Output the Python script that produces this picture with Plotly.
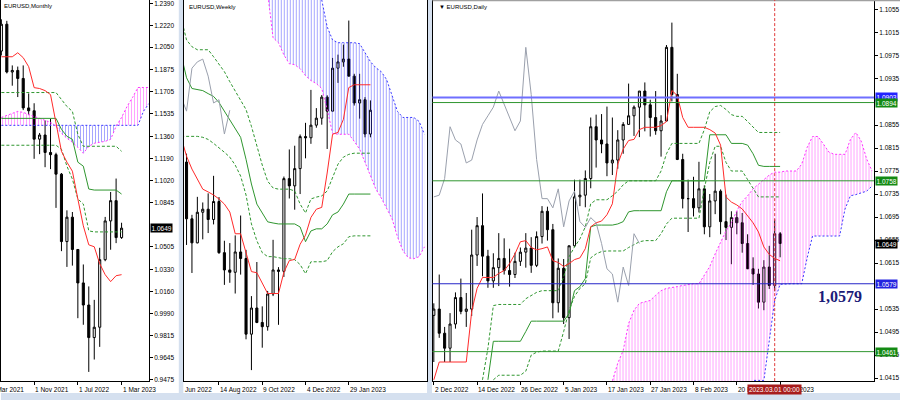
import numpy as np
import plotly.graph_objects as go

# ---------------- MONTHLY (index 0 = Mar 2021) ----------------
m_x = list(range(2, 25))
m_open = [1.2020, 1.2228, 1.1858, 1.1870, 1.1808, 1.1580, 1.1558, 1.1338, 1.1370, 1.1235, 1.1218, 1.1067,
          1.0545, 1.0734, 1.0484, 1.0225, 1.0054, 0.9802, 0.9882, 1.0405, 1.0705, 1.0862, 1.0576]
m_high = [1.2266, 1.2254, 1.1909, 1.1900, 1.1909, 1.1692, 1.1616, 1.1386, 1.1483, 1.1495, 1.1233, 1.1076,
          1.0787, 1.0774, 1.0487, 1.0368, 1.0198, 1.0094, 1.0497, 1.0736, 1.0929, 1.1033, 1.0691]
m_low = [1.1986, 1.1847, 1.1752, 1.1664, 1.1563, 1.1524, 1.1186, 1.1222, 1.1121, 1.1106, 1.0806, 1.0471,
         1.0349, 1.0359, 0.9952, 0.9901, 0.9536, 0.9632, 0.9730, 1.0393, 1.0482, 1.0533, 1.0566]
m_close = [1.2228, 1.1858, 1.1870, 1.1808, 1.1580, 1.1558, 1.1338, 1.1370, 1.1235, 1.1218, 1.1067, 1.0545,
           1.0734, 1.0484, 1.0225, 1.0054, 0.9802, 0.9882, 1.0405, 1.0705, 1.0862, 1.0576, 1.0649]
m_tenkan = [1.1976, 1.1976, 1.1976, 1.2007, 1.1969, 1.1899, 1.1737, 1.1730, 1.1714, 1.1683, 1.1452, 1.1244,
            1.1160, 1.1090, 1.0875, 1.0667, 1.0520, 1.0505, 1.0374, 1.0289, 1.0235, 1.0281, 1.0289]
m_kijun = [1.1499] * 11 + [1.1414, 1.1360, 1.1337, 1.1160, 1.1129, 1.0952, 1.0944, 1.0944, 1.0944, 1.0944, 1.0944, 1.0913]
m_band_up = [1.1699] * 11 + [1.1645, 1.1591, 1.1553, 1.1375, 1.1283, 1.1283, 1.1283, 1.1283, 1.1283, 1.1283, 1.1283, 1.1244]
m_band_dn = [1.1291] * 11 + [1.1260, 1.1129, 1.1029, 1.0875, 1.0836, 1.0628, 1.0620, 1.0620, 1.0620, 1.0620, 1.0620, 1.0620]
m_cloud_x = list(range(2, 30))
m_spanA = [1.1506, 1.1522, 1.1537, 1.1553, 1.1545, 1.1530, 1.1514, 1.1499, 1.1483, 1.1468, 1.1437, 1.1383,
           1.1345, 1.1314, 1.1275, 1.1229, 1.1283, 1.1306, 1.1314, 1.1321, 1.1337, 1.1437, 1.1506, 1.1591,
           1.1660, 1.1738, 1.1738, 1.1738]
m_spanB = [1.1445] * 26 + [1.1553, 1.1614]
m_ticks = [0.9475, 0.9645, 0.9815, 0.9990, 1.0160, 1.0330, 1.0505, 1.0845, 1.1020, 1.1190,
           1.1360, 1.1535, 1.1705, 1.1875, 1.2050, 1.2220, 1.2390]
m_dates = [(0, "1 Mar 2021"), (8, "1 Nov 2021"), (16, "1 Jul 2022"), (24, "1 Mar 2023")]

# ---------------- WEEKLY (index 0 = 19 Jun 2022) ----------------
w_x = list(range(2, 37))
w_open = [1.0427, 1.0184, 1.0081, 1.0212, 1.0225, 1.0181, 1.0258, 1.0039, 0.9965, 0.9955, 1.0042, 1.0014,
          0.9690, 0.9802, 0.9740, 0.9722, 0.9862, 0.9965, 0.9959, 1.0356, 1.0325, 1.0399, 1.0536, 1.0531,
          1.0585, 1.0615, 1.0705, 1.0645, 1.0829, 1.0856, 1.0868, 1.0795, 1.0680, 1.0694, 1.0547]
w_high = [1.0463, 1.0201, 1.0278, 1.0254, 1.0293, 1.0368, 1.0277, 1.0090, 1.0080, 1.0113, 1.0198, 1.0051,
          0.9853, 0.9999, 0.9809, 0.9875, 1.0094, 0.9977, 1.0365, 1.0481, 1.0497, 1.0545, 1.0595, 1.0736,
          1.0658, 1.0714, 1.0713, 1.0873, 1.0887, 1.0930, 1.1033, 1.0805, 1.0805, 1.0705, 1.0691]
w_low = [1.0072, 0.9952, 1.0079, 1.0096, 1.0123, 1.0160, 1.0034, 0.9901, 0.9910, 0.9864, 0.9945, 0.9668,
         0.9536, 0.9737, 0.9632, 0.9705, 0.9853, 0.9730, 0.9935, 1.0271, 1.0223, 1.0290, 1.0443, 1.0505,
         1.0574, 1.0587, 1.0483, 1.0644, 1.0766, 1.0835, 1.0794, 1.0669, 1.0613, 1.0533, 1.0533]
w_close = [1.0184, 1.0081, 1.0212, 1.0225, 1.0181, 1.0258, 1.0039, 0.9965, 0.9955, 1.0042, 1.0014, 0.9690,
           0.9802, 0.9740, 0.9722, 0.9862, 0.9965, 0.9959, 1.0356, 1.0325, 1.0399, 1.0536, 1.0531, 1.0585,
           1.0615, 1.0705, 1.0645, 1.0829, 1.0856, 1.0868, 1.0795, 1.0680, 1.0694, 1.0547, 1.0649]
w_line_x = list(range(1, 37))
w_tenkan = [1.0533, 1.0452, 1.0397, 1.0354, 1.0311, 1.0299, 1.0286, 1.0269, 1.0247, 1.0213, 1.0120, 1.0120,
            1.0043, 0.9958, 0.9953, 0.9907, 0.9864, 0.9864, 0.9864, 0.9955, 1.0005, 1.0010, 1.0075, 1.0114,
            1.0190, 1.0225, 1.0233, 1.0380, 1.0546, 1.0554, 1.0610, 1.0746, 1.0758, 1.0758, 1.0758, 1.0758]
w_kijun = [1.0886, 1.0788, 1.0742, 1.0737, 1.0733, 1.0720, 1.0708, 1.0682, 1.0644, 1.0610, 1.0571, 1.0533,
           1.0439, 1.0333, 1.0247, 1.0209, 1.0171, 1.0166, 1.0162, 1.0162, 1.0162, 1.0162, 1.0149, 1.0086,
           1.0132, 1.0141, 1.0141, 1.0162, 1.0201, 1.0213, 1.0247, 1.0290, 1.0290, 1.0290, 1.0290, 1.0290]
w_band_up = [1.1044, 1.0950, 1.0921, 1.0908, 1.0908, 1.0908, 1.0878, 1.0848, 1.0814, 1.0771, 1.0733, 1.0695,
             1.0652, 1.0580, 1.0495, 1.0414, 1.0345, 1.0316, 1.0311, 1.0311, 1.0311, 1.0303, 1.0247, 1.0209,
             1.0269, 1.0277, 1.0282, 1.0303, 1.0362, 1.0418, 1.0448, 1.0460, 1.0465, 1.0465, 1.0465, 1.0465]
w_band_dn = [1.0537, 1.0537, 1.0537, 1.0537, 1.0533, 1.0524, 1.0507, 1.0490, 1.0469, 1.0448, 1.0414, 1.0367,
             1.0286, 1.0162, 1.0090, 1.0039, 1.0022, 1.0022, 1.0018, 1.0013, 1.0013, 1.0009, 0.9988, 0.9949,
             1.0000, 1.0000, 1.0000, 1.0005, 1.0043, 1.0064, 1.0077, 1.0107, 1.0111, 1.0111, 1.0111, 1.0111]
w_chikou_x = list(range(1, 11))
w_chikou = [1.0705, 1.0645, 1.0829, 1.0856, 1.0868, 1.0795, 1.0680, 1.0694, 1.0547, 1.0649]
w_cloud_x = list(range(16, 47))
w_spanA = [1.1200, 1.1150, 1.0959, 1.0938, 1.0886, 1.0848, 1.0844, 1.0827, 1.0797, 1.0776, 1.0763, 1.0742,
           1.0652, 1.0550, 1.0546, 1.0546, 1.0546, 1.0516, 1.0482, 1.0426, 1.0371, 1.0311, 1.0273, 1.0226,
           1.0184, 1.0107, 1.0047, 1.0017, 1.0013, 1.0022, 1.0064]
w_spanB = [1.1300] * 11 + [1.1121, 1.1006, 1.0950, 1.0938, 1.0938, 1.0938, 1.0938, 1.0934, 1.0895, 1.0857,
                           1.0831, 1.0814, 1.0780, 1.0712, 1.0644, 1.0618, 1.0618, 1.0618, 1.0601, 1.0546]
w_dates = [(8, "14 Aug 2022"), (16, "9 Oct 2022"), (24, "4 Dec 2022"), (32, "29 Jan 2023")]

# ---------------- DAILY (index 0 = 2 Dec 2022) ----------------
d_x = list(range(0, 65))
d_open = [1.0524, 1.0535, 1.0493, 1.0467, 1.0509, 1.0555, 1.0531, 1.0535, 1.0629, 1.0680, 1.0627, 1.0584,
          1.0607, 1.0623, 1.0602, 1.0595, 1.0618, 1.0634, 1.0641, 1.0611, 1.0661, 1.0705, 1.0673, 1.0546,
          1.0606, 1.0520, 1.0645, 1.0730, 1.0733, 1.0762, 1.0852, 1.0829, 1.0822, 1.0789, 1.0794, 1.0829,
          1.0856, 1.0871, 1.0886, 1.0914, 1.0890, 1.0868, 1.0845, 1.0862, 1.0990, 1.0908, 1.0795, 1.0727,
          1.0727, 1.0711, 1.0744, 1.0678, 1.0723, 1.0740, 1.0687, 1.0677, 1.0694, 1.0685, 1.0649, 1.0605,
          1.0596, 1.0547, 1.0608, 1.0576, 1.0666]
d_high = [1.0545, 1.0595, 1.0504, 1.0528, 1.0564, 1.0588, 1.0563, 1.0673, 1.0695, 1.0736, 1.0638, 1.0632,
          1.0667, 1.0658, 1.0640, 1.0633, 1.0642, 1.0667, 1.0660, 1.0670, 1.0714, 1.0713, 1.0683, 1.0623,
          1.0622, 1.0644, 1.0760, 1.0760, 1.0776, 1.0868, 1.0873, 1.0874, 1.0887, 1.0868, 1.0846, 1.0860,
          1.0927, 1.0889, 1.0914, 1.0929, 1.0899, 1.0914, 1.0872, 1.0994, 1.1033, 1.0944, 1.0805, 1.0760,
          1.0765, 1.0791, 1.0750, 1.0735, 1.0805, 1.0743, 1.0734, 1.0705, 1.0705, 1.0702, 1.0665, 1.0625,
          1.0605, 1.0620, 1.0645, 1.0691, 1.0669]
d_low = [1.0443, 1.0485, 1.0443, 1.0443, 1.0501, 1.0526, 1.0504, 1.0523, 1.0610, 1.0592, 1.0572, 1.0572,
         1.0575, 1.0595, 1.0574, 1.0589, 1.0610, 1.0607, 1.0598, 1.0608, 1.0649, 1.0654, 1.0519, 1.0529,
         1.0509, 1.0483, 1.0643, 1.0714, 1.0712, 1.0745, 1.0781, 1.0806, 1.0766, 1.0768, 1.0779, 1.0805,
         1.0856, 1.0836, 1.0834, 1.0844, 1.0835, 1.0838, 1.0800, 1.0861, 1.0896, 1.0794, 1.0710, 1.0669,
         1.0696, 1.0703, 1.0665, 1.0660, 1.0700, 1.0665, 1.0655, 1.0613, 1.0665, 1.0633, 1.0608, 1.0577,
         1.0536, 1.0533, 1.0570, 1.0566, 1.0625]
d_close = [1.0535, 1.0493, 1.0467, 1.0509, 1.0555, 1.0531, 1.0535, 1.0629, 1.0680, 1.0627, 1.0584, 1.0607,
           1.0623, 1.0602, 1.0595, 1.0618, 1.0634, 1.0641, 1.0611, 1.0661, 1.0705, 1.0673, 1.0546, 1.0606,
           1.0520, 1.0645, 1.0730, 1.0733, 1.0762, 1.0852, 1.0829, 1.0822, 1.0789, 1.0794, 1.0829, 1.0856,
           1.0871, 1.0886, 1.0914, 1.0890, 1.0868, 1.0845, 1.0862, 1.0990, 1.0908, 1.0795, 1.0727, 1.0727,
           1.0711, 1.0744, 1.0678, 1.0723, 1.0740, 1.0687, 1.0677, 1.0694, 1.0685, 1.0649, 1.0605, 1.0596,
           1.0547, 1.0608, 1.0576, 1.0666, 1.0649]
d_tenkan = [1.0412, 1.0443, 1.0443, 1.0443, 1.0443, 1.0443, 1.0443, 1.0531, 1.0571, 1.0590, 1.0590, 1.0590,
            1.0597, 1.0602, 1.0614, 1.0631, 1.0652, 1.0654, 1.0642, 1.0638, 1.0640, 1.0643, 1.0619, 1.0616,
            1.0609, 1.0614, 1.0621, 1.0624, 1.0640, 1.0678, 1.0685, 1.0688, 1.0699, 1.0718, 1.0787, 1.0813,
            1.0828, 1.0830, 1.0847, 1.0851, 1.0851, 1.0851, 1.0854, 1.0861, 1.0915, 1.0906, 1.0868, 1.0851,
            1.0851, 1.0851, 1.0851, 1.0847, 1.0841, 1.0820, 1.0730, 1.0721, 1.0716, 1.0709, 1.0697, 1.0685,
            1.0669, 1.0643, 1.0630, 1.0623, 1.0619]
d_kijun_x = list(range(10, 65))
d_kijun = [1.0412, 1.0479, 1.0479, 1.0479, 1.0479, 1.0479, 1.0479, 1.0496, 1.0514, 1.0514, 1.0514, 1.0514,
           1.0514, 1.0514, 1.0514, 1.0527, 1.0567, 1.0574, 1.0588, 1.0678, 1.0681, 1.0681, 1.0681, 1.0681,
           1.0683, 1.0687, 1.0704, 1.0706, 1.0706, 1.0706, 1.0706, 1.0706, 1.0706, 1.0739, 1.0758, 1.0758,
           1.0758, 1.0758, 1.0758, 1.0758, 1.0758, 1.0838, 1.0838, 1.0838, 1.0838, 1.0823, 1.0823, 1.0823,
           1.0820, 1.0805, 1.0785, 1.0783, 1.0783, 1.0783, 1.0783]
d_band_up_x = list(range(9, 65))
d_band_up = [1.0412, 1.0467, 1.0541, 1.0543, 1.0543, 1.0543, 1.0543, 1.0543, 1.0553, 1.0559, 1.0564, 1.0567,
             1.0567, 1.0567, 1.0567, 1.0591, 1.0626, 1.0643, 1.0657, 1.0678, 1.0718, 1.0725, 1.0725, 1.0725,
             1.0732, 1.0740, 1.0751, 1.0758, 1.0758, 1.0758, 1.0758, 1.0758, 1.0758, 1.0775, 1.0805, 1.0823,
             1.0823, 1.0823, 1.0823, 1.0823, 1.0823, 1.0847, 1.0878, 1.0887, 1.0889, 1.0882, 1.0873, 1.0870,
             1.0870, 1.0861, 1.0851, 1.0842, 1.0842, 1.0842, 1.0842, 1.0842]
d_band_dn_x = list(range(11, 65))
d_band_dn = [1.0412, 1.0420, 1.0420, 1.0420, 1.0420, 1.0420, 1.0427, 1.0455, 1.0460, 1.0462, 1.0462, 1.0462,
             1.0462, 1.0496, 1.0533, 1.0557, 1.0571, 1.0579, 1.0624, 1.0631, 1.0635, 1.0636, 1.0636, 1.0636,
             1.0636, 1.0642, 1.0647, 1.0652, 1.0654, 1.0654, 1.0654, 1.0666, 1.0683, 1.0693, 1.0693, 1.0693,
             1.0693, 1.0693, 1.0693, 1.0744, 1.0790, 1.0818, 1.0818, 1.0790, 1.0775, 1.0775, 1.0775, 1.0760,
             1.0745, 1.0730, 1.0730, 1.0730, 1.0730, 1.0730]
d_chikou_x = list(range(0, 39))
d_chikou = [1.0730, 1.0733, 1.0762, 1.0852, 1.0829, 1.0822, 1.0789, 1.0794, 1.0829, 1.0856, 1.0871, 1.0886,
            1.0914, 1.0890, 1.0868, 1.0845, 1.0862, 1.0990, 1.0908, 1.0795, 1.0727, 1.0727, 1.0711, 1.0744,
            1.0678, 1.0723, 1.0740, 1.0687, 1.0677, 1.0694, 1.0685, 1.0649, 1.0605, 1.0596, 1.0547, 1.0608,
            1.0576, 1.0666, 1.0649]
d_cloud_x = list(range(30, 82))
d_spanA = [1.0380, 1.0390, 1.0400, 1.0410, 1.0441, 1.0463, 1.0510, 1.0533, 1.0545, 1.0548, 1.0550, 1.0559,
           1.0567, 1.0571, 1.0572, 1.0574, 1.0576, 1.0578, 1.0579, 1.0579, 1.0593, 1.0609, 1.0631, 1.0652,
           1.0671, 1.0685, 1.0706, 1.0722, 1.0732, 1.0744, 1.0752, 1.0761, 1.0768, 1.0773, 1.0773, 1.0775,
           1.0775, 1.0775, 1.0787, 1.0816, 1.0835, 1.0835, 1.0822, 1.0808, 1.0804, 1.0804, 1.0804, 1.0830,
           1.0842, 1.0827, 1.0796, 1.0775]
d_spanB = [1.0350] * 28 + [1.0390, 1.0411, 1.0411, 1.0411, 1.0480, 1.0550, 1.0578, 1.0579, 1.0579, 1.0579,
                           1.0579, 1.0624, 1.0662, 1.0662, 1.0662, 1.0662, 1.0662, 1.0662, 1.0709, 1.0732,
                           1.0734, 1.0737, 1.0740, 1.0749]
d_ticks = [1.0415, 1.0455, 1.0495, 1.0535, 1.0615, 1.0655, 1.0695, 1.0735, 1.0775, 1.0815, 1.0855,
           1.0935, 1.0975, 1.1015, 1.1055]
d_dates = [(0, "2 Dec 2022"), (8, "14 Dec 2022"), (16, "26 Dec 2022"), (24, "5 Jan 2023"), (32, "17 Jan 2023"),
           (40, "27 Jan 2023"), (48, "8 Feb 2023"), (56, "20 Feb 2023"), (64, "2 Mar 2023")]
d_levels = [(1.0903, "#6f6fff", 2.0, "#2323ff"), (1.0894, "#2f962f", 1.0, "#138a13"),
            (1.0758, "#2f962f", 1.0, "#138a13"), (1.0579, "#2424c8", 1.0, "#2424e0"),
            (1.0461, "#2f962f", 1.0, "#138a13")]
last_price = 1.0649
cursor_bar = 63

# ---------------- figure ----------------
W, H = 900, 402
FONT = "Liberation Sans"
RED, GREEN, GREY = "#ff2a2a", "#2f962f", "#9aa0ad"
MAG, BLUE = "#ff33ff", "#3a3aff"

fig = go.Figure()


def line(x, y, color, xa, ya, dash=None, width=1.0):
    fig.add_trace(go.Scatter(x=x, y=y, mode="lines", xaxis=xa, yaxis=ya, hoverinfo="skip", showlegend=False,
                             line=dict(color=color, width=width, dash=dash)))


def hatch(x, lower, upper, color, xa, ya):
    fig.add_trace(go.Scatter(x=x, y=lower, mode="lines", xaxis=xa, yaxis=ya, hoverinfo="skip",
                             showlegend=False, line=dict(width=0, color="rgba(0,0,0,0)")))
    fig.add_trace(go.Scatter(x=x, y=upper, mode="lines", xaxis=xa, yaxis=ya, hoverinfo="skip",
                             showlegend=False, line=dict(width=0, color="rgba(0,0,0,0)"),
                             fill="tonexty", fillcolor=color,
                             fillpattern=dict(shape="|", fgcolor=color, bgcolor="rgba(0,0,0,0)",
                                              size=3, solidity=0.25, fgopacity=0.6)))


def candles(x, o, h, l, c, xa, ya):
    fig.add_trace(go.Candlestick(x=x, open=o, high=h, low=l, close=c, xaxis=xa, yaxis=ya,
                                 showlegend=False, hoverinfo="skip", whiskerwidth=0,
                                 increasing=dict(line=dict(color="black", width=1), fillcolor="white"),
                                 decreasing=dict(line=dict(color="black", width=1), fillcolor="black")))


# monthly
mA, mB = np.array(m_spanA), np.array(m_spanB)
hatch(m_cloud_x, mB, np.maximum(mA, mB), MAG, "x", "y")
hatch(m_cloud_x, mA, np.maximum(mA, mB), BLUE, "x", "y")
line(m_cloud_x, m_spanB, BLUE, "x", "y", dash="2px,2px")
line(m_cloud_x, m_spanA, MAG, "x", "y", dash="2px,2px")
line(m_x, m_band_up, GREEN, "x", "y", dash="3px,2px")
line(m_x, m_band_dn, GREEN, "x", "y", dash="3px,2px")
line(m_x, m_kijun, GREEN, "x", "y")
line(m_x, m_tenkan, RED, "x", "y")
candles(m_x, m_open, m_high, m_low, m_close, "x", "y")

# weekly
hatch(w_cloud_x, w_spanA, w_spanB, BLUE, "x2", "y2")
line(w_cloud_x, w_spanB, BLUE, "x2", "y2", dash="2px,2px")
line(w_cloud_x, w_spanA, MAG, "x2", "y2", dash="2px,2px")
line(w_line_x, w_band_up, GREEN, "x2", "y2", dash="3px,2px")
line(w_line_x, w_band_dn, GREEN, "x2", "y2", dash="3px,2px")
line(w_line_x, w_kijun, GREEN, "x2", "y2")
line(w_line_x, w_tenkan, RED, "x2", "y2")
line(w_chikou_x, w_chikou, GREY, "x2", "y2")
candles(w_x, w_open, w_high, w_low, w_close, "x2", "y2")

# daily
hatch(d_cloud_x, d_spanB, d_spanA, MAG, "x3", "y3")
line(d_cloud_x, d_spanB, BLUE, "x3", "y3", dash="2px,2px")
line(d_cloud_x, d_spanA, MAG, "x3", "y3", dash="2px,2px")
line(d_band_up_x, d_band_up, GREEN, "x3", "y3", dash="3px,2px")
line(d_band_dn_x, d_band_dn, GREEN, "x3", "y3", dash="3px,2px")
line(d_kijun_x, d_kijun, GREEN, "x3", "y3")
line(d_x, d_tenkan, RED, "x3", "y3")
line(d_chikou_x, d_chikou, GREY, "x3", "y3")
candles(d_x, d_open, d_high, d_low, d_close, "x3", "y3")

# ---------------- axes ----------------
ydom = [1 - 383 / H, 1]
tickfont = dict(family=FONT, size=6.5, color="black")
xcommon = dict(showgrid=False, zeroline=False, showline=True, linecolor="black", linewidth=1,
               ticks="outside", ticklen=3, tickcolor="black", showticklabels=False,
               rangeslider=dict(visible=False), fixedrange=True)
ycommon = dict(showgrid=False, zeroline=False, showline=True, linecolor="black", linewidth=1, mirror=True,
               side="right", ticks="outside", ticklen=3, tickcolor="black", tickfont=tickfont,
               tickformat=".4f", fixedrange=True, ticklabeloverflow="allow")

fig.update_layout(
    width=W, height=H, margin=dict(l=0, r=0, t=0, b=0),
    paper_bgcolor="white", plot_bgcolor="white", showlegend=False, hovermode=False,
    boxgap=0.45,
    xaxis=dict(domain=[0, 148 / W], range=[1.935, 28.99], anchor="y",
               tickvals=[d for d, _ in m_dates], **xcommon),
    yaxis=dict(domain=ydom, range=[0.9465, 1.24154], anchor="x", tickvals=m_ticks, **ycommon),
    xaxis2=dict(domain=[183 / W, 426 / W], range=[1.494, 46.37], anchor="y2",
                tickvals=[d for d, _ in w_dates], **xcommon),
    yaxis2=dict(domain=ydom, range=[0.9489, 1.1121], anchor="x2",
                **{**ycommon, "showticklabels": False, "ticks": ""}),
    xaxis3=dict(domain=[432 / W, 874 / W], range=[-0.24, 81.36], anchor="y3",
                tickvals=[d for d, _ in d_dates], **xcommon),
    yaxis3=dict(domain=ydom, range=[1.04098, 1.10723], anchor="x3", tickvals=d_ticks, **ycommon),
)

shapes = []
ann = []
# window chrome
light = "#d5e0ef"
shapes.append(dict(type="rect", xref="paper", yref="paper", x0=178 / W, x1=182.5 / W, y0=0, y1=1,
                   fillcolor=light, line=dict(width=0), layer="below"))
shapes.append(dict(type="rect", xref="paper", yref="paper", x0=426.5 / W, x1=431.5 / W, y0=0, y1=1,
                   fillcolor=light, line=dict(width=0), layer="below"))
shapes.append(dict(type="rect", xref="paper", yref="paper", x0=0, x1=1, y0=0, y1=7 / H,
                   fillcolor=light, line=dict(width=0), layer="below"))
shapes.append(dict(type="line", xref="paper", yref="paper", x0=432 / W, x1=1, y0=1 - 0.5 / H, y1=1 - 0.5 / H,
                   line=dict(color="#a0a0a0", width=1.5)))

# daily horizontal levels
for val, col, wdt, _ in d_levels:
    shapes.append(dict(type="line", xref="x3 domain", yref="y3", x0=0, x1=1, y0=val, y1=val,
                       line=dict(color=col, width=wdt)))
# cursor line
shapes.append(dict(type="line", xref="x3", yref="y3 domain", x0=cursor_bar, x1=cursor_bar, y0=0, y1=1,
                   line=dict(color="#e03a3a", width=1, dash="3px,2px")))

# date labels
lab_y = 1 - 386.5 / H
small = dict(family=FONT, size=6.5, color="black")
for d, t in m_dates:
    xv = max(d, 2.0)
    ann.append(dict(x=xv, xref="x", y=lab_y, yref="paper", text=t, showarrow=False, xanchor="left",
                    yanchor="top", font=small, xshift=-(xv - d) * 5.47, borderpad=0))
ann.append(dict(x=1.55, xref="x2", y=lab_y, yref="paper", text="Jun 2022", showarrow=False, xanchor="left",
                yanchor="top", font=small, borderpad=0))
for d, t in w_dates:
    ann.append(dict(x=d, xref="x2", y=lab_y, yref="paper", text=t, showarrow=False, xanchor="left",
                    yanchor="top", font=small, borderpad=0))
for d, t in d_dates:
    ann.append(dict(x=d, xref="x3", y=lab_y, yref="paper", text=t, showarrow=False, xanchor="left",
                    yanchor="top", font=small, borderpad=0))
ann.append(dict(x=cursor_bar, xref="x3", y=lab_y + 1 / H, yref="paper", text="2023.03.01 00:00",
                showarrow=False, xanchor="center", yanchor="top", bgcolor="#a81c1c",
                font=dict(family=FONT, size=6.5, color="white"), borderpad=1))

# price boxes
for val, _, _, boxcol in d_levels:
    ann.append(dict(x=875 / W, xref="paper", y=val, yref="y3", text=f"{val:.4f}", showarrow=False,
                    xanchor="left", yanchor="middle", bgcolor=boxcol,
                    font=dict(family=FONT, size=6.5, color="white"), borderpad=0.5))
ann.append(dict(x=875 / W, xref="paper", y=last_price, yref="y3", text=f"{last_price:.4f}", showarrow=False,
                xanchor="left", yanchor="middle", bgcolor="black",
                font=dict(family=FONT, size=6.5, color="white"), borderpad=0.5))
ann.append(dict(x=149 / W, xref="paper", y=last_price, yref="y", text=f"{last_price:.4f}", showarrow=False,
                xanchor="left", yanchor="middle", bgcolor="black",
                font=dict(family=FONT, size=6.5, color="white"), borderpad=0.5))

# titles
title_font = dict(family=FONT, size=6, color="black")
ann.append(dict(x=1 / W, xref="paper", y=1 - 1.5 / H, yref="paper", text="EURUSD,Monthly", showarrow=False,
                xanchor="left", yanchor="top", font=title_font))
ann.append(dict(x=186 / W, xref="paper", y=1 - 2 / H, yref="paper", text="EURUSD,Weekly", showarrow=False,
                xanchor="left", yanchor="top", font=title_font))
ann.append(dict(x=436 / W, xref="paper", y=1 - 2 / H, yref="paper", text="▼ EURUSD,Daily", showarrow=False,
                xanchor="left", yanchor="top", font=title_font))

# key level label
ann.append(dict(x=75, xref="x3", y=1.0557, yref="y3", text="<b>1,0579</b>", showarrow=False,
                font=dict(family="Liberation Serif", size=16, color="#1b1b78")))

fig.update_layout(shapes=shapes, annotations=ann)
fig.write_html("out.html", config={"displayModeBar": False, "staticPlot": True},
               post_script="document.body.style.margin='0px';document.body.style.overflow='hidden';")
